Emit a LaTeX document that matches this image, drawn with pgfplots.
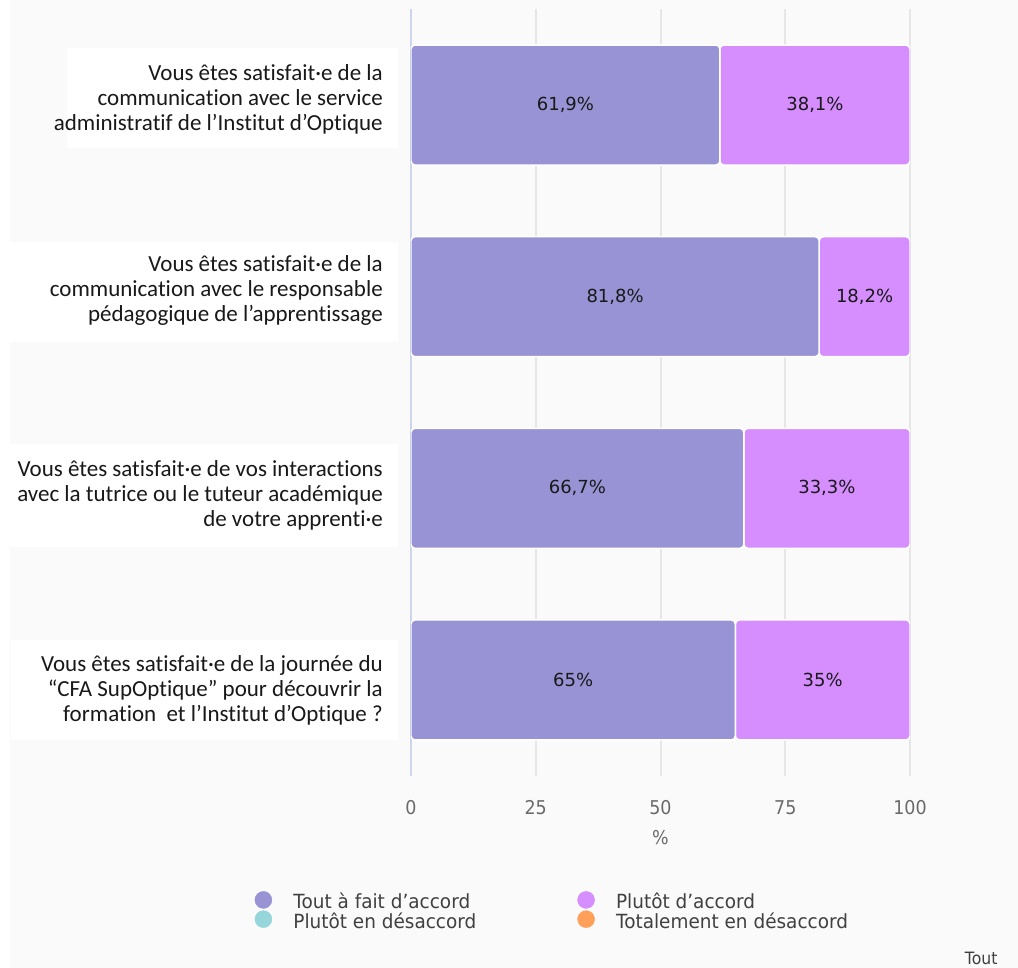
\documentclass[border=0pt]{standalone}
\usepackage{fontspec}
\setmainfont{DejaVu Sans}
\newfontfamily\carlito[Ligatures=NoCommon]{Carlito}
\newfontfamily\djc[FakeStretch=0.92]{DejaVu Sans}
\newfontfamily\djl[FakeStretch=0.946]{DejaVu Sans}
\usepackage{pgfplots}
\usepackage{pgfplotstable}
\pgfplotsset{compat=1.18}
\definecolor{cA}{HTML}{9893D4}
\definecolor{cB}{HTML}{D68EFF}
\definecolor{cC}{HTML}{96D6DB}
\definecolor{cD}{HTML}{FFA05A}
\definecolor{bg}{HTML}{FAFAFA}
\definecolor{gridc}{HTML}{E6E6E6}
\definecolor{axc}{HTML}{CCD5EB}
\definecolor{tickc}{HTML}{6A6A6A}
\definecolor{textc}{HTML}{404040}

% y: 3 = top category, 0 = bottom category
\pgfplotstableread{
y a b la lb
3 61.9 38.1 61,9 38,1
2 81.8 18.2 81,8 18,2
1 66.7 33.3 66,7 33,3
0 65 35 65 35
}\data

\pgfplotsset{base/.style={
  at={(411bp,192.2bp)}, anchor=south west, scale only axis,
  width=499bp, height=766.6bp,
  xmin=0, xmax=100, ymin=-0.5, ymax=3.5,
}}

\begin{document}
\begin{tikzpicture}
\useasboundingbox (0,0) rectangle (1018bp,968bp);
\fill[bg] (0,0) rectangle (1018bp,968bp);
\fill[white] (0,0) rectangle (10bp,968bp);
\fill[white] (67bp,820bp) rectangle (398bp,920bp);
\fill[white] (0bp,626bp) rectangle (398bp,726bp);
\fill[white] (0bp,421bp) rectangle (398bp,524bp);
\fill[white] (11bp,228bp) rectangle (398bp,328bp);

\begin{axis}[base,
  xbar stacked, bar width=120bp,
  axis line style={draw=none}, major tick length=0pt,
  xtick={0,25,50,75,100}, ytick={0,1,2,3},
  /pgf/number format/assume math mode=true,
  xticklabel style={font=\djc\fontsize{19bp}{22bp}\selectfont, text=tickc, anchor=base, yshift=-39bp},
  yticklabels={{Vous êtes satisfait·e de la journée du\\“CFA SupOptique” pour découvrir la\\formation\ \ et l’Institut d’Optique ?},
               {Vous êtes satisfait·e de vos interactions\\avec la tutrice ou le tuteur académique\\de votre apprenti·e},
               {Vous êtes satisfait·e de la\\communication avec le responsable\\pédagogique de l’apprentissage},
               {Vous êtes satisfait·e de la\\communication avec le service\\administratif de l’Institut d’Optique}},
  yticklabel style={font=\carlito\fontsize{23bp}{25bp}\selectfont, text=black!90, align=right, anchor=east, inner sep=0pt,
    yshift={{-10,-7,6,6}[\ticknum]*1bp}},
  yticklabel shift=28bp,
  xmajorgrids, grid style={draw=gridc, line width=2bp},
  extra x ticks={0}, extra x tick labels={},
  extra x tick style={grid style={draw=axc, line width=2bp}},
  xlabel={\%},
  xlabel style={font=\djc\fontsize{19bp}{22bp}\selectfont, text=tickc, at={(axis description cs:0.5,-0.081)}, anchor=center},
]
\addplot[fill=cA, draw=white, line width=1.5bp, rounded corners=4bp]
  table[x=a, y=y] {\data};
\addplot[fill=cB, draw=white, line width=1.5bp, rounded corners=4bp]
  table[x=b, y=y] {\data};
\end{axis}

\begin{axis}[base, hide axis,
  legend columns=2,
  legend cell align=left,
  legend image code/.code={\fill[#1] (8.5bp,0.2em) circle (8.5bp); \path[draw=none] (0,0) -- (37.5bp,0);},
  legend style={at={(axis description cs:-0.3196,-0.1477)}, anchor=north west,
    draw=none, fill=none, font=\djl\fontsize{19.5bp}{20bp}\selectfont, text=textc,
    nodes={inner sep=1bp}, row sep=-1bp},
]
\addplot[draw=none, mark=none, nodes near coords={\pgfplotspointmeta\%}, point meta=explicit symbolic,
  nodes near coords align=center, forget plot,
  every node near coord/.append style={font=\fontsize{18bp}{20bp}\selectfont, text=black!90}]
  table[x expr=\thisrow{a}/2, y=y, meta=la] {\data};
\addplot[draw=none, mark=none, nodes near coords={\pgfplotspointmeta\%}, point meta=explicit symbolic,
  nodes near coords align=center, forget plot,
  every node near coord/.append style={font=\fontsize{18bp}{20bp}\selectfont, text=black!90}]
  table[x expr=\thisrow{a}+\thisrow{b}/2, y=y, meta=lb] {\data};
\addlegendimage{cA}
\addlegendimage{cB}
\addlegendimage{cC}
\addlegendimage{cD}
\legend{\makebox[283bp][l]{Tout à fait d’accord},{Plutôt d’accord},\makebox[283bp][l]{Plutôt en désaccord},{Totalement en désaccord}}
\end{axis}

\node[anchor=base east, font=\djc\fontsize{17bp}{20bp}\selectfont, text=textc] at (1001bp,4bp) {Tout};
\end{tikzpicture}
\end{document}
